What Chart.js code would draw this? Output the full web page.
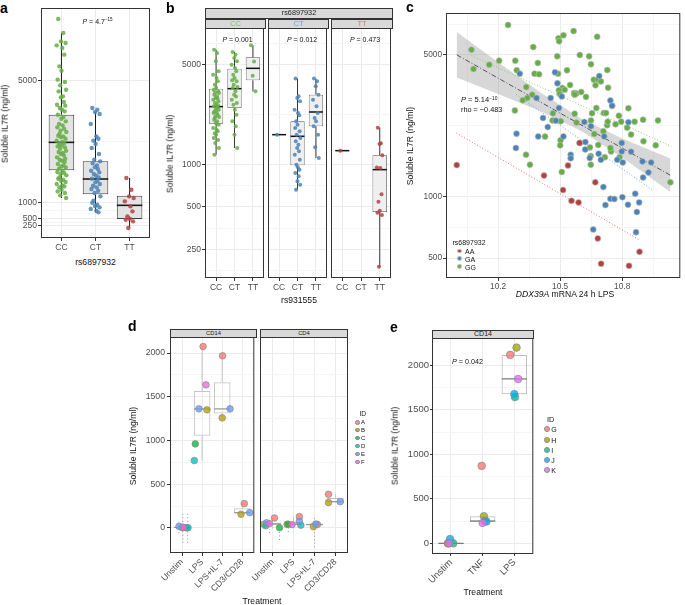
<!DOCTYPE html>
<html><head><meta charset="utf-8">
<script src="https://cdn.jsdelivr.net/npm/chart.js@4.4.1/dist/chart.umd.min.js"></script>
<style>
html,body{margin:0;padding:0;background:#fff}
body{position:relative;width:685px;height:605px;overflow:hidden;font-family:"Liberation Sans",Arial,Helvetica,sans-serif;color:#111}
canvas{position:absolute}
.t{position:absolute;white-space:nowrap;line-height:1}
.t sup{font-size:65%;line-height:0;vertical-align:0.55em}
.strip{position:absolute;box-sizing:border-box;background:#D9D9D9;border:1px solid #333;text-align:center;white-space:nowrap;overflow:hidden}
.key{position:absolute;border-radius:50%;box-sizing:border-box}
</style></head><body>
<script>
// ================= DATA =================
// ---- panel a ----
const A_CATS = ['CC', 'CT', 'TT'];
const A_Y_TICKS = [250, 500, 1000, 5000];
const A_Y_MINOR = [375, 750, 3000];
const A_CC = [7032, 6573, 6300, 6245, 6169, 6081, 5863, 5480, 5338, 5043, 4967, 4857, 4715, 4660, 4496, 4464, 4311, 4223, 4191, 4114, 4059, 4005, 3895, 3819, 3764, 3677, 3589, 3546, 3480, 3436, 3371, 3327, 3261, 3207, 3185, 3152, 3108, 3043, 2999, 2966, 2934, 2890, 2857, 2824, 2781, 2715, 2671, 2639, 2606, 2562, 2496, 2453, 2420, 2387, 2343, 2278, 2234, 2201, 2169, 2125, 2059, 2015, 1983, 1950, 1906, 1840, 1797, 1764, 1731, 1687, 1622, 1578, 1545, 1512, 1436, 1380, 1327, 1250, 1163];
const A_CT = [4114, 4059, 3983, 3917, 3589, 3185, 3108, 3043, 2934, 2803, 2606, 2420, 2365, 2300, 2234, 2169, 2114, 2059, 2004, 1950, 1895, 1840, 1797, 1731, 1676, 1622, 1567, 1512, 1458, 1403, 1327, 1218, 1075, 1010, 944, 901, 857, 802, 748, 693];
const A_TT = [1819, 1436, 1218, 1163, 1054, 890, 726, 562, 485, 452, 398, 179];
// box: [lower whisker, q1, median, q3, upper whisker]
const A_BOX_CC = [1163, 2070, 2988, 3895, 6573];
const A_BOX_CT = [693, 1283, 1786, 2365, 3983];
const A_BOX_TT = [179, 474, 923, 1240, 1819];

// ---- panel b ----
const B_CATS = ['CC', 'CT', 'TT'];
const B_FACETS = ['CC', 'CT', 'TT'];
const B_Y_TICKS = [250, 500, 1000, 5000];
const B_Y_MINOR = [177, 354, 707, 2236, 7071];
const B_CC_CC = [6411, 6076, 5306, 4511, 4275, 4050, 3836, 3634, 3443, 3352, 3263, 3200, 3177, 3092, 3009, 2929, 2900, 2851, 2775, 2700, 2628, 2600, 2558, 2489, 2450, 2423, 2358, 2300, 2295, 2233, 2174, 2150, 2116, 2059, 2004, 1950, 1898, 1799, 1750, 1705, 1650, 1615, 1531, 1480, 1412, 1302, 1168];
const B_CC_CT = [6172, 5914, 5600, 5306, 5027, 4762, 4511, 4275, 4050, 3900, 3836, 3634, 3500, 3443, 3263, 3092, 3000, 2851, 2700, 2628, 2423, 2233, 2004, 1849, 1615, 1302];
const B_CC_TT = [6879, 5300, 4200, 3263];
const B_CT_CC = [1615];
const B_CT_CT = [4010, 3009, 2929, 2775, 2423, 2295, 2209, 2004, 1898, 1799, 1705, 1615, 1531, 1450, 1374, 1302, 1233, 1168, 1077, 993, 951, 916, 868, 822, 758, 718, 662];
const B_CT_TT = [4010, 3836, 3539, 3092, 2851, 2558, 2295, 2116, 2004, 1849, 1615, 1316, 1107];
const B_TT_CC = [1246];
const B_TT_TT = [1810, 1404, 1390, 1156, 950, 940, 614, 545, 470, 455, 439, 190];
const B_BOX_CC_CC = [1168, 1931, 2544, 3406, 6411];
const B_BOX_CC_CT = [1302, 2489, 3406, 4711, 6172];
const B_BOX_CC_TT = [3263, 3900, 4736, 5664, 6879];
const B_BOX_CT_CC = [1615, 1615, 1615, 1615, 1615];
const B_BOX_CT_CT = [662, 982, 1573, 2004, 4010];
const B_BOX_CT_TT = [1107, 1849, 2333, 3092, 4010];
const B_BOX_TT_CC = [1246, 1246, 1246, 1246, 1246];
const B_BOX_TT_TT = [190, 461, 916, 1156, 1810];

// ---- panel c : [DDX39A expression, soluble IL7R] ----
const C_X_TICKS = [10.2, 10.5, 10.8];
const C_X_MINOR = [10.05, 10.35, 10.65, 10.95];
const C_Y_TICKS = [500, 1000, 5000];
const C_Y_MINOR = [707, 2236, 7071];
const C_GENOTYPES = ['AA', 'GA', 'GG'];
const C_GG = [[10.248,7030],[10.071,5310],[10.081,4265],[10.157,4480],[10.205,4690],[10.283,4690],[10.290,4203],[10.370,5470],[10.392,4570],[10.376,4045],[10.398,4018],[10.492,6040],[10.495,5840],[10.516,6250],[10.565,6560],[10.679,6150],[10.486,4925],[10.640,4925],[10.595,5000],[10.649,4500],[10.533,4203],[10.490,4045],[10.663,3780],[10.671,3548],[10.682,3790],[10.697,3707],[10.728,4215],[10.732,3450],[10.336,3476],[10.365,3190],[10.341,3070],[10.319,2992],[10.281,2667],[10.511,3440],[10.522,3373],[10.548,3560],[10.494,3350],[10.567,3250],[10.578,3228],[10.602,3289],[10.570,3190],[10.625,3110],[10.498,3215],[10.675,2741],[10.654,2582],[10.649,2382],[10.711,2590],[10.752,2812],[10.722,2590],[10.709,2104],[10.665,2042],[10.684,1803],[10.644,1754],[10.648,1589],[10.648,1442],[10.727,2254],[10.730,2349],[10.768,2280],[10.784,2512],[10.795,2349],[10.830,2735],[10.824,2193],[10.860,2349],[10.901,2400],[10.973,2382],[10.843,2028],[10.903,1879],[10.962,1795],[11.033,1180],[10.787,1567],[10.716,1567],[10.746,1675],[10.743,1742],[10.502,1901],[10.500,1795],[10.508,1327],[10.427,1982],[10.465,2582],[10.463,2382],[10.503,2360],[10.570,2570],[10.579,2323],[10.335,1614],[10.354,1442]];
const C_GA = [[10.305,4045],[10.475,4108],[10.487,3626],[10.508,3127],[10.454,3070],[10.386,3070],[10.494,2741],[10.417,2449],[10.440,2208],[10.479,2375],[10.394,1986],[10.516,1986],[10.289,2050],[10.286,1742],[10.617,2342],[10.649,2230],[10.595,1845],[10.622,1862],[10.621,1714],[10.643,1556],[10.686,1633],[10.697,1524],[10.713,1986],[10.689,3940],[10.743,2985],[10.751,2812],[10.830,2335],[10.798,1845],[10.798,1675],[10.776,1524],[10.803,1479],[10.843,1671],[10.898,1496],[10.927,1321],[10.940,1479],[10.901,1247],[10.551,1614],[10.551,1549],[10.709,1119],[10.801,998],[10.743,979],[10.762,977],[10.719,912],[10.828,916],[10.863,1038],[10.882,940],[10.871,843],[10.867,671],[10.660,692]];
const C_AA = [[10.000,1435],[10.422,1274],[10.538,1429],[10.514,1081],[10.555,957],[10.589,940],[10.594,1845],[10.670,1180],[10.682,625],[10.698,469],[10.833,458],[10.884,537]];
const C_FIT_X = [10.0, 11.033];
const C_FIT_Y = [5010, 1279];
const C_BAND_X = [10.0, 10.2, 10.4, 10.6, 10.8, 11.033];
const C_BAND_HI = [6486, 4603, 3296, 2432, 1941, 1545];
const C_BAND_LO = [3873, 3214, 2655, 2118, 1563, 1059];
const C_GG_FIT_X = [10.071, 11.038];
const C_GG_FIT_Y = [4963, 1774];
const C_GA_FIT_X = [10.287, 10.944];
const C_GA_FIT_Y = [3199, 1086];
const C_AA_FIT_X = [9.998, 10.887];
const C_AA_FIT_Y = [2065, 611];

// ---- panel d : values per treatment, ordered by donor ID A..F ----
const D_TREAT = ['Unstim', 'LPS', 'LPS+IL-7', 'CD3/CD28'];
const D_IDS = ['A', 'B', 'C', 'D', 'E', 'F'];
const D_Y_TICKS = [0, 500, 1000, 1500, 2000];
const D_Y_MINOR = [-250, 250, 750, 1250, 1750];
const D_CD14_UNSTIM = [8, 4, 2, 3, 18, 6];
const D_CD14_LPS = [2074, 1350, 961, 770, 1362, 1636];
const D_CD14_LPSIL7 = [1968, 1259, null, null, 1362, null];
const D_CD14_CD3 = [278, 157, null, null, 175, null];
const D_CD4_UNSTIM = [114, 42, 3, 25, 60, 50];
const D_CD4_LPS = [130, 42, 42, 32, 77, 38];
const D_CD4_LPSIL7 = [40, 15, null, null, 45, null];
const D_CD4_CD3 = [385, 290, null, null, 301, null];
const D_BOX_CD14 = [[2, 4, 7, 14, 18], [770, 1053, 1362, 1567, 2074], [1259, 1308, 1362, 1667, 1968], [157, 166, 175, 226, 278]];
const D_BOX_CD4 = [[3, 30, 46, 58, 114], [32, 39, 42, 68, 130], [15, 28, 40, 43, 45], [290, 296, 301, 343, 385]];
// dotted replicate ranges: treatment index, low, high
const D_ERR_CD14_T = [1, 1, 1];
const D_ERR_CD14_LO = [-60, -170, -170];
const D_ERR_CD14_HI = [100, 185, 180];
const D_ERR_CD4_T = [1, 1, 2, 3];
const D_ERR_CD4_LO = [-57, -137, -46, -220];
const D_ERR_CD4_HI = [-11, -23, 114, 140];

// ---- panel e : values per treatment, ordered by donor ID G..K ----
const E_TREAT = ['Unstim', 'TNF', 'LPS'];
const E_IDS = ['G', 'H', 'I', 'J', 'K'];
const E_Y_TICKS = [0, 500, 1000, 1500, 2000];
const E_Y_MINOR = [250, 750, 1250, 1750];
const E_UNSTIM = [0, 0, 0, 48, 0];
const E_TNF = [870, 305, 250, 245, 229];
const E_LPS = [2117, 2199, 1643, 1676, 1847];
const E_BOX = [[0, 0, 0, 0, 0], [229, 245, 250, 305, 305], [1643, 1676, 1847, 2117, 2199]];

// ================= STYLE =================
const FONT = '"Liberation Sans", Arial, Helvetica, sans-serif';
Chart.defaults.font.family = FONT;
const MAJOR = '#EBEBEB', MINOR = '#F5F5F5', AXISC = '#333333', TICKC = '#4D4D4D';
const GREEN = '#66AD47', BLUE = '#4C83B6', RED = '#B2423F';
const D_COLORS = ['#F8766D', '#B79F00', '#00BA38', '#00BFC4', '#619CFF', '#F564E3'];
const E_COLORS = ['#F8766D', '#A3A500', '#00BF7D', '#00B0F6', '#E76BF3'];
// horizontal jitter pattern (fraction of the jitter width)
const JITTER = [-0.62, 0.35, -0.08, 0.81, -0.93, 0.17, 0.56, -0.41, 0.02, -0.74, 0.68, -0.25, 0.91, -0.55, 0.29, -0.12, 0.47, -0.86, 0.74, -0.33, 0.11, 0.63, -0.69, 0.39, -0.02, 0.85, -0.47, 0.22, -0.79, 0.52, -0.18, 0.96, -0.38];
// dodge offsets of the donor points (style only)
const D_OFF_CD14 = [[0.04, 0.0, 0.22, 0.30, -0.15, 0.08], [0.05, 0.24, -0.34, -0.39, -0.16, 0.19], [0.02, 0.0, 0, 0, 0.39, 0], [0.10, -0.06, 0, 0, 0.37, 0]];
const D_OFF_CD4 = [[0.09, -0.41, 0.33, -0.33, -0.28, -0.15], [0.28, -0.31, -0.26, 0.35, 0.28, -0.07], [0.14, -0.05, 0, 0, 0.06, 0], [-0.33, -0.33, 0, 0, 0.23, 0]];
const D_ERR_OFF_CD14 = [-0.16, 0.04, 0.28];
const D_ERR_OFF_CD4 = [-0.15, 0.33, -0.25, 0.0];
const E_OFF = [[-0.1, -0.08, 0.07, -0.03, -0.06], [-0.03, 0.04, 0.07, 0.12, 0.0], [-0.13, 0.07, 0.02, 0.0, 0.12]];

function hexA(h, a) { const n = parseInt(h.slice(1), 16); return 'rgba(' + ((n >> 16) & 255) + ',' + ((n >> 8) & 255) + ',' + (n & 255) + ',' + a + ')'; }

const framePlugin = {
  id: 'frame',
  afterDatasetsDraw(chart, args, o) {
    const a = chart.chartArea, c = chart.ctx;
    c.save(); c.strokeStyle = o.color || '#333'; c.lineWidth = o.width || 1;
    c.strokeRect(a.left + 0.5, a.top + 0.5, a.right - a.left - 1, a.bottom - a.top - 1);
    c.restore();
  }
};

function makeChart(o) {
  const [cx, cy, cw, ch] = o.canvas, [l, t, r, b] = o.plot;
  const el = document.createElement('canvas');
  el.width = cw; el.height = ch;
  el.style.left = cx + 'px'; el.style.top = cy + 'px'; el.style.width = cw + 'px'; el.style.height = ch + 'px';
  document.body.appendChild(el);
  const yW = l - cx, padT = t - cy, padR = cx + cw - r, xH = cy + ch - b;
  const font = {family: FONT, size: o.font || 8.5};
  const tl = o.tickLen === undefined ? 3 : o.tickLen;
  const showY = o.showY !== false;
  const zeroPad = s => { s.paddingLeft = s.paddingRight = s.paddingTop = s.paddingBottom = 0; };
  const fixW = w => s => { s.width = w; zeroPad(s); };
  const fixH = h => s => { s.height = h; zeroPad(s); };
  const setT = arr => s => { s.ticks = arr.map(v => ({value: v})); };
  const scales = {
    x: {type: 'linear', axis: 'x', position: 'bottom', min: o.x.min, max: o.x.max, offset: false,
      grid: {offset: false, color: MAJOR, lineWidth: 1, drawTicks: true, tickLength: tl, tickColor: AXISC, tickWidth: 1},
      border: {display: false},
      ticks: {font, color: TICKC, padding: o.xPad === undefined ? 2 : o.xPad, autoSkip: false, maxRotation: o.rot || 0, minRotation: o.rot || 0, callback: o.x.fmt},
      afterBuildTicks: setT(o.x.ticks), afterFit: fixH(xH)},
    y: {type: o.y.type || 'linear', axis: 'y', position: 'left', min: o.y.min, max: o.y.max,
      grid: {color: MAJOR, lineWidth: 1, drawTicks: showY, tickLength: tl, tickColor: AXISC, tickWidth: 1},
      border: {display: false},
      ticks: {display: showY, font, color: TICKC, padding: o.yPad === undefined ? 1 : o.yPad, autoSkip: false, callback: v => String(v)},
      afterBuildTicks: setT(o.y.ticks), afterFit: fixW(yW)}
  };
  if (o.x.minor) scales.xm = {type: 'linear', axis: 'x', position: 'bottom', min: o.x.min, max: o.x.max, offset: false,
    grid: {offset: false, color: MINOR, lineWidth: 1, drawTicks: false}, border: {display: false}, ticks: {display: false},
    afterBuildTicks: setT(o.x.minor), afterFit: fixH(0)};
  if (o.y.minor) scales.ym = {type: o.y.type || 'linear', axis: 'y', position: 'left', min: o.y.min, max: o.y.max,
    grid: {color: MINOR, lineWidth: 1, drawTicks: false}, border: {display: false}, ticks: {display: false},
    afterBuildTicks: setT(o.y.minor), afterFit: fixW(0)};
  o.datasets.forEach(d => { d.xAxisID = 'x'; d.yAxisID = 'y'; });
  return new Chart(el, {
    type: 'scatter',
    data: {datasets: o.datasets},
    options: {
      responsive: false, maintainAspectRatio: false, animation: false, devicePixelRatio: 1, events: [],
      layout: {padding: {top: padT, right: padR, left: 0, bottom: 0}},
      plugins: {legend: {display: false}, tooltip: {enabled: false}, frame: {color: '#333', width: 1}},
      scales
    },
    plugins: [framePlugin]
  });
}

function seg(x1, y1, x2, y2, color, w, order, dash) {
  return {type: 'line', data: [{x: x1, y: y1}, {x: x2, y: y2}], borderColor: color, borderWidth: w, borderDash: dash || [],
    pointRadius: 0, pointHoverRadius: 0, fill: false, tension: 0, order};
}
function boxSets(boxes, st) {
  const sets = [];
  const real = boxes.filter(([p, s]) => s[3] > s[1]);
  if (real.length) sets.push({type: 'bar', data: real.map(([p, s]) => ({x: p, y: [s[1], s[3]]})),
    backgroundColor: st.fill, borderColor: st.edge, borderWidth: st.lw, borderSkipped: false,
    barThickness: st.hw * 2 * st.ppu, grouped: false, inflateAmount: 0, order: 30});
  boxes.forEach(([p, s]) => {
    if (s[1] > s[0]) sets.push(seg(p, s[0], p, s[1], st.whisk, st.wlw, 40));
    if (s[4] > s[3]) sets.push(seg(p, s[3], p, s[4], st.whisk, st.wlw, 40));
    sets.push(seg(p - st.hw, s[2], p + st.hw, s[2], st.med, st.medW, 25));
  });
  return sets;
}
function jitterPts(vals, pos, spread) { return vals.map((v, j) => ({x: pos + JITTER[j % JITTER.length] * spread, y: v})); }
function donorSets(groups, offs, colors, radius) {
  return colors.map((c, k) => ({type: 'scatter',
    data: groups.map((g, t) => g[k] == null ? null : {x: t + 1 + offs[t][k], y: g[k]}).filter(Boolean),
    pointRadius: radius, backgroundColor: hexA(c, 0.78), borderColor: '#8a8a8a', borderWidth: 0.7, order: 10 - k}));
}

function txt(html, x, y, o) {
  o = o || {};
  const d = document.createElement('div');
  d.className = 't'; d.innerHTML = html;
  const s = d.style;
  s.fontSize = (o.size || 8.6) + 'px';
  if (o.bold) s.fontWeight = 'bold';
  s.color = o.color || '#111';
  s.left = x + 'px'; s.top = y + 'px';
  s.transform = (o.anchor === 'l' ? 'translate(0,-50%)' : 'translate(-50%,-50%)') + (o.rot ? ' rotate(' + o.rot + 'deg)' : '');
  document.body.appendChild(d);
}
function strip(text, l, t, w, h, size, color) {
  const d = document.createElement('div');
  d.className = 'strip'; d.textContent = text;
  Object.assign(d.style, {left: l + 'px', top: t + 'px', width: w + 'px', height: h + 'px', fontSize: size + 'px', lineHeight: (h - 2) + 'px', color: color || '#1a1a1a'});
  document.body.appendChild(d);
}
function key(cx, cy, r, fill, border) {
  const d = document.createElement('div');
  d.className = 'key';
  Object.assign(d.style, {left: (cx - r) + 'px', top: (cy - r) + 'px', width: 2 * r + 'px', height: 2 * r + 'px', background: fill, border: border ? ('0.7px solid ' + border) : 'none'});
  document.body.appendChild(d);
}

// ================= PANEL A =================
(function () {
  const plot = [41, 8, 150, 238], xr = [0.4, 3.6];
  const ppu = (plot[2] - plot[0]) / (xr[1] - xr[0]);
  const ds = boxSets([[1, A_BOX_CC], [2, A_BOX_CT], [3, A_BOX_TT]],
    {fill: '#E3E3E3', edge: '#404040', lw: 1, whisk: '#1a1a1a', wlw: 1, med: '#1a1a1a', medW: 1.6, hw: 0.375, ppu});
  [A_CC, A_CT, A_TT].forEach((vals, i) => ds.push({type: 'scatter', data: jitterPts(vals, i + 1, 0.15),
    pointRadius: 2.2, backgroundColor: hexA([GREEN, BLUE, RED][i], 0.85), borderWidth: 0, order: 10}));
  makeChart({canvas: [9, 0, 146, 254], plot, x: {min: xr[0], max: xr[1], ticks: [1, 2, 3], fmt: v => A_CATS[Math.round(v) - 1]},
    y: {type: 'linear', min: -148, max: 7393, ticks: A_Y_TICKS, minor: A_Y_MINOR}, datasets: ds, font: 8.5});
  txt('a', 0, 8.2, {size: 14, bold: true, anchor: 'l', color: '#000'});
  txt('Soluble IL7R (ng/ml)', 5, 124, {rot: -90});
  txt('rs6897932', 95.5, 261.5);
  txt('<i>P</i> = 4.7<sup>−15</sup>', 82.5, 20.5, {size: 7, anchor: 'l'});
})();

// ================= PANEL B =================
(function () {
  const xr = [0.4, 3.6];
  const facets = [
    {plot: [205, 28, 266, 278], canvas: [172, 20, 96, 280], showY: true, color: GREEN,
      groups: [[1, B_CC_CC, B_BOX_CC_CC], [2, B_CC_CT, B_BOX_CC_CT], [3, B_CC_TT, B_BOX_CC_TT]]},
    {plot: [268, 28, 329, 278], canvas: [262, 20, 69, 280], showY: false, color: BLUE,
      groups: [[1, B_CT_CC, B_BOX_CT_CC], [2, B_CT_CT, B_BOX_CT_CT], [3, B_CT_TT, B_BOX_CT_TT]]},
    {plot: [331, 28, 393, 278], canvas: [325, 20, 70, 280], showY: false, color: RED,
      groups: [[1, B_TT_CC, B_BOX_TT_CC], [3, B_TT_TT, B_BOX_TT_TT]]}
  ];
  facets.forEach(f => {
    const ppu = (f.plot[2] - f.plot[0]) / (xr[1] - xr[0]);
    const ds = boxSets(f.groups.map(g => [g[0], g[2]]),
      {fill: '#EFEFEF', edge: '#555555', lw: 0.8, whisk: '#222', wlw: 0.9, med: '#111', medW: 1.5, hw: 0.375, ppu});
    f.groups.forEach(g => ds.push({type: 'scatter', data: jitterPts(g[1], g[0], 0.17),
      pointRadius: 2, backgroundColor: hexA(f.color, 0.85), borderWidth: 0, order: 10}));
    makeChart({canvas: f.canvas, plot: f.plot, showY: f.showY,
      x: {min: xr[0], max: xr[1], ticks: [1, 2, 3], fmt: v => B_CATS[Math.round(v) - 1]},
      y: {type: 'logarithmic', min: 158, max: 9110, ticks: B_Y_TICKS, minor: B_Y_MINOR}, datasets: ds, font: 8.5});
  });
  txt('b', 166, 8.2, {size: 14, bold: true, anchor: 'l', color: '#000'});
  txt('Soluble IL7R (ng/ml)', 170, 154, {rot: -90});
  txt('rs931555', 299, 300);
  strip('rs6897932', 205, 8, 188, 10.5, 7.3);
  strip(B_FACETS[0], 205, 19, 61, 9.5, 7.5, '#7CC655');
  strip(B_FACETS[1], 268, 19, 61, 9.5, 7.5, '#5DA5DA');
  strip(B_FACETS[2], 331, 19, 62, 9.5, 7.5, '#E8736C');
  txt('<i>P</i> = 0.001', 237.5, 39.3, {size: 7});
  txt('<i>P</i> = 0.012', 302, 39.3, {size: 7});
  txt('<i>P</i> = 0.473', 365, 39.3, {size: 7});
})();

// ================= PANEL C =================
(function () {
  const pts = arr => arr.map(p => ({x: p[0], y: p[1]}));
  const line = (xs, ys) => xs.map((x, i) => ({x, y: ys[i]}));
  const ds = [
    {type: 'line', data: line(C_BAND_X, C_BAND_HI), borderColor: 'rgba(0,0,0,0)', borderWidth: 0, pointRadius: 0, fill: '+1', backgroundColor: 'rgba(150,150,150,0.38)', tension: 0, order: 60},
    {type: 'line', data: line(C_BAND_X, C_BAND_LO), borderColor: 'rgba(0,0,0,0)', borderWidth: 0, pointRadius: 0, fill: false, tension: 0, order: 61},
    {type: 'line', data: line(C_FIT_X, C_FIT_Y), borderColor: '#555', borderWidth: 1, borderDash: [5, 2, 1, 2], pointRadius: 0, fill: false, order: 15},
    {type: 'line', data: line(C_GG_FIT_X, C_GG_FIT_Y), borderColor: '#8CCF5F', borderWidth: 1, borderDash: [1, 2], pointRadius: 0, fill: false, order: 16},
    {type: 'line', data: line(C_GA_FIT_X, C_GA_FIT_Y), borderColor: '#6AAEE3', borderWidth: 1, borderDash: [1, 2], pointRadius: 0, fill: false, order: 16},
    {type: 'line', data: line(C_AA_FIT_X, C_AA_FIT_Y), borderColor: '#E8736C', borderWidth: 1, borderDash: [1, 2], pointRadius: 0, fill: false, order: 16},
    {type: 'scatter', data: pts(C_GG), pointRadius: 3, backgroundColor: GREEN, borderColor: 'rgba(190,190,190,0.9)', borderWidth: 0.7, order: 12},
    {type: 'scatter', data: pts(C_GA), pointRadius: 3, backgroundColor: BLUE, borderColor: 'rgba(190,190,190,0.9)', borderWidth: 0.7, order: 11},
    {type: 'scatter', data: pts(C_AA), pointRadius: 3, backgroundColor: RED, borderColor: 'rgba(190,190,190,0.9)', borderWidth: 0.7, order: 10}
  ];
  makeChart({canvas: [412, 5, 273, 291], plot: [446, 13, 684, 278],
    x: {min: 9.948, max: 11.081, ticks: C_X_TICKS, minor: C_X_MINOR, fmt: v => v.toFixed(1)},
    y: {type: 'logarithmic', min: 399, max: 8049, ticks: C_Y_TICKS, minor: C_Y_MINOR}, datasets: ds, font: 8.3, xPad: 1});
  txt('c', 406, 6.5, {size: 14, bold: true, anchor: 'l', color: '#000'});
  txt('Soluble IL7R (ng/ml)', 410, 146, {rot: -90});
  txt('<i>DDX39A</i> mRNA 24 h LPS', 565, 294);
  txt('<i>P</i> = 5.14<sup>−10</sup>', 461, 100, {size: 7.5, anchor: 'l'});
  txt('rho = −0.483', 461, 109.5, {size: 7.3, anchor: 'l'});
  txt('rs6897932', 452.5, 242, {size: 7, anchor: 'l'});
  const kc = [RED, BLUE, GREEN];
  C_GENOTYPES.forEach((g, i) => {
    const y = 251 + i * 7.8;
    key(459.7, y, 2.4, kc[i], 'rgba(190,190,190,0.9)');
    txt(g, 465, y, {size: 7, anchor: 'l'});
  });
})();

// ================= PANEL D =================
(function () {
  const xr = [0.4, 4.6];
  const facets = [
    {plot: [170, 337, 257, 553], canvas: [136, 330, 123, 265], showY: true,
      vals: [D_CD14_UNSTIM, D_CD14_LPS, D_CD14_LPSIL7, D_CD14_CD3], offs: D_OFF_CD14, box: D_BOX_CD14,
      errT: D_ERR_CD14_T, errLo: D_ERR_CD14_LO, errHi: D_ERR_CD14_HI, errOff: D_ERR_OFF_CD14},
    {plot: [260, 337, 348, 553], canvas: [226, 330, 127, 265], showY: false,
      vals: [D_CD4_UNSTIM, D_CD4_LPS, D_CD4_LPSIL7, D_CD4_CD3], offs: D_OFF_CD4, box: D_BOX_CD4,
      errT: D_ERR_CD4_T, errLo: D_ERR_CD4_LO, errHi: D_ERR_CD4_HI, errOff: D_ERR_OFF_CD4}
  ];
  facets.forEach(f => {
    const ppu = (f.plot[2] - f.plot[0]) / (xr[1] - xr[0]);
    const ds = boxSets(f.box.map((s, i) => [i + 1, s]),
      {fill: 'rgba(255,255,255,0)', edge: '#C4C4C4', lw: 1, whisk: '#C4C4C4', wlw: 1, med: '#9A9A9A', medW: 1.3, hw: 0.4, ppu});
    f.errT.forEach((t, i) => ds.push(seg(t + f.errOff[i], f.errLo[i], t + f.errOff[i], f.errHi[i], '#9A9A9A', 1, 45, [1, 2.5])));
    donorSets(f.vals, f.offs, D_COLORS, 3.3).forEach(d => ds.push(d));
    makeChart({canvas: f.canvas, plot: f.plot, showY: f.showY, rot: 45, xPad: 1,
      x: {min: xr[0], max: xr[1], ticks: [1, 2, 3, 4], fmt: v => D_TREAT[Math.round(v) - 1]},
      y: {type: 'linear', min: -286, max: 2183, ticks: D_Y_TICKS, minor: D_Y_MINOR}, datasets: ds, font: 8.7, yPad: 2});
  });
  txt('d', 128, 326.2, {size: 14, bold: true, anchor: 'l', color: '#000'});
  txt('Soluble IL7R (ng/ml)', 133, 445.7, {rot: -90});
  txt('Treatment', 262, 601);
  strip('CD14', 170, 329, 87, 8.5, 5.8);
  strip('CD4', 260, 329, 88, 8.5, 5.8);
  txt('ID', 359.5, 413.5, {size: 6.6, anchor: 'l'});
  D_IDS.forEach((id, i) => {
    const y = 422.3 + i * 7.9;
    key(357.3, y, 2.3, hexA(D_COLORS[i], 0.78), '#8a8a8a');
    txt(id, 361, y, {size: 6, anchor: 'l'});
  });
})();

// ================= PANEL E =================
(function () {
  const xr = [0.4, 3.6];
  const plot = [432, 338, 534, 554];
  const ppu = (plot[2] - plot[0]) / (xr[1] - xr[0]);
  const ds = boxSets(E_BOX.map((s, i) => [i + 1, s]),
    {fill: 'rgba(255,255,255,0)', edge: '#BDBDBD', lw: 1, whisk: '#BDBDBD', wlw: 1, med: '#7A7A7A', medW: 1.3, hw: 0.4, ppu});
  donorSets([E_UNSTIM, E_TNF, E_LPS], E_OFF, E_COLORS, 3.8).forEach(d => ds.push(d));
  makeChart({canvas: [398, 331, 140, 266], plot, rot: 45, xPad: 1,
    x: {min: xr[0], max: xr[1], ticks: [1, 2, 3], fmt: v => E_TREAT[Math.round(v) - 1]},
    y: {type: 'linear', min: -120, max: 2307, ticks: E_Y_TICKS, minor: E_Y_MINOR}, datasets: ds, font: 9.5, tickLen: 2});
  txt('e', 390, 327.2, {size: 14, bold: true, anchor: 'l', color: '#000'});
  txt('Soluble IL7R (ng/ml)', 395, 445.8, {rot: -90});
  txt('Treatment', 483, 592);
  strip('CD14', 432, 330, 102, 8.8, 7);
  txt('<i>P</i> = 0.042', 452, 362.3, {size: 7.2, anchor: 'l'});
  txt('ID', 547, 420, {size: 7.3, anchor: 'l'});
  E_IDS.forEach((id, i) => {
    const y = 429.3 + i * 10.25;
    key(546.5, y, 3, hexA(E_COLORS[i], 0.78), '#8a8a8a');
    txt(id, 551.2, y, {size: 7, anchor: 'l'});
  });
})();
</script>
</body></html>
